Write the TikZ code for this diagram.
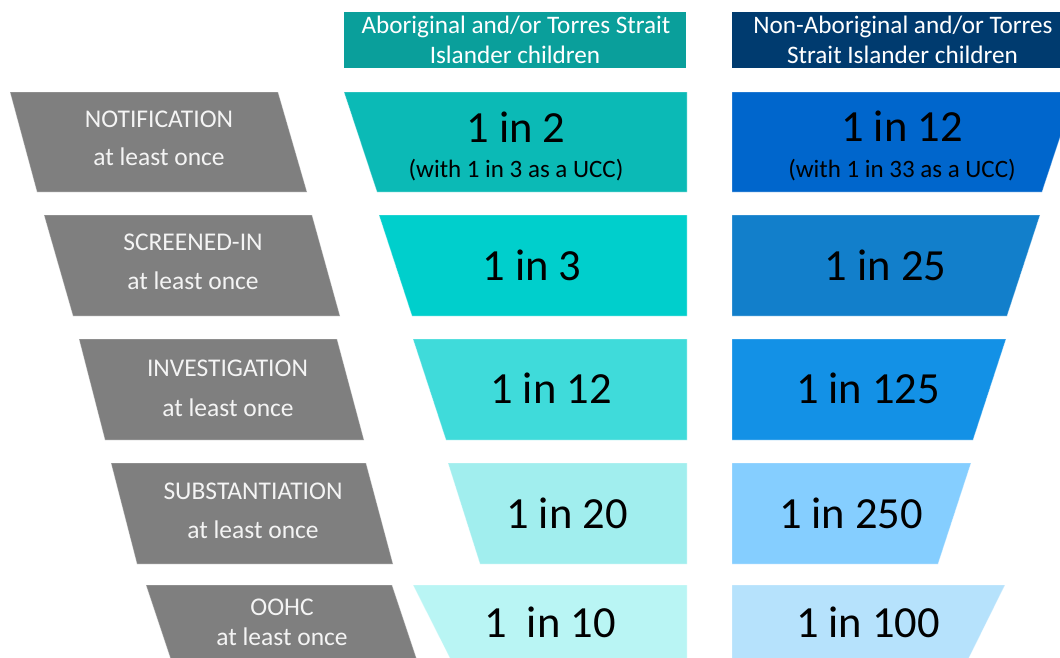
\documentclass[tikz,border=0pt]{standalone}
\usepackage{fontspec}
\setmainfont{Carlito}
\definecolor{hdrA}{HTML}{0A9F9B}
\definecolor{hdrB}{HTML}{003B6F}
\definecolor{grayL}{HTML}{7F7F7F}
\definecolor{tA}{HTML}{0BBAB6}
\definecolor{tB}{HTML}{00CFCC}
\definecolor{tC}{HTML}{3FDBDA}
\definecolor{tD}{HTML}{A1EEEE}
\definecolor{tE}{HTML}{B9F5F4}
\definecolor{bA}{HTML}{0066CC}
\definecolor{bB}{HTML}{127FCB}
\definecolor{bC}{HTML}{1391E6}
\definecolor{bD}{HTML}{85CEFF}
\definecolor{bE}{HTML}{B6E2FC}
\definecolor{labtext}{HTML}{F4F4F4}
\begin{document}
\begin{tikzpicture}[x=1pt,y=-1pt,
  lab/.style={font=\fontsize{25.5}{30}\selectfont, text=labtext, anchor=base, inner sep=0pt},
  big/.style={font=\fontsize{44.5}{52}\selectfont, text=black, anchor=base, inner sep=0pt},
  small/.style={font=\fontsize{25}{30}\selectfont, text=black, anchor=base, inner sep=0pt},
  hdr/.style={font=\fontsize{25.2}{30}\selectfont, text=white, anchor=base, inner sep=0pt},
  shp/.style={draw=white, draw opacity=0.35, line width=0.8pt}
]
\useasboundingbox (0,0) rectangle (1060,657);
\clip (0,0) rectangle (1060,657);

% headers
\fill[hdrA] (344,12) rectangle (686,68);
\fill[hdrB] (732,12) rectangle (1075,68);
\node[hdr] (h1a) at (516,33) {Aboriginal and/or Torres Strait};
\node[hdr] (h1b) at (515,63) {Islander children};
\node[hdr] (h2a) at (903,33) {Non-Aboriginal and/or Torres};
\node[hdr] (h2b) at (902.5,63) {Strait Islander children};

% gray stage shapes
\fill[grayL,shp] (10,92) -- (278,92) -- (307,192) -- (37,192) -- cycle;
\fill[grayL,shp] (44,215) -- (312,215) -- (340,316) -- (73,316) -- cycle;
\fill[grayL,shp] (79,339) -- (337,339) -- (364,440) -- (105,440) -- cycle;
\fill[grayL,shp] (111,463) -- (366,463) -- (393,564) -- (137,564) -- cycle;
\fill[grayL,shp] (146,585) -- (392,585) -- (427,690) -- (181,690) -- cycle;

% teal column
\fill[tA,shp] (344,92) -- (687,92) -- (687,192) -- (377,192) -- cycle;
\fill[tB,shp] (379,215) -- (687,215) -- (687,316) -- (412,316) -- cycle;
\fill[tC,shp] (413,339) -- (687,339) -- (687,440) -- (446,440) -- cycle;
\fill[tD,shp] (448,463) -- (687,463) -- (687,564) -- (480,564) -- cycle;
\fill[tE,shp] (413,585) -- (687,585) -- (687,690) -- (466,690) -- cycle;

% blue column
\fill[bA,shp] (732,92) -- (1075,92) -- (1042,192) -- (732,192) -- cycle;
\fill[bB,shp] (732,215) -- (1040,215) -- (1007,316) -- (732,316) -- cycle;
\fill[bC,shp] (732,339) -- (1006,339) -- (973,440) -- (732,440) -- cycle;
\fill[bD,shp] (732,463) -- (971,463) -- (938,564) -- (732,564) -- cycle;
\fill[bE,shp] (732,585) -- (1005,585) -- (953,690) -- (732,690) -- cycle;

% gray labels
\node[lab] (g1a) at (159,127) {NOTIFICATION};
\node[lab] (g1b) at (159,165) {at least once};
\node[lab] (g2a) at (193,250) {SCREENED-IN};
\node[lab] (g2b) at (193,289) {at least once};
\node[lab] (g3a) at (227.5,376) {INVESTIGATION};
\node[lab] (g3b) at (228,416) {at least once};
\node[lab] (g4a) at (253,499) {SUBSTANTIATION};
\node[lab] (g4b) at (253,538) {at least once};
\node[lab] (g5a) at (282,615) {OOHC};
\node[lab] (g5b) at (282,645) {at least once};

% teal values
\node[big] (t1) at (516,142) {1 in 2};
\node[small] (t1s) at (516,177) {(with 1 in 3 as a UCC)};
\node[big] (t2) at (532,280) {1 in 3};
\node[big] (t3) at (551,403) {1 in 12};
\node[big] (t4) at (567,528) {1 in 20};
\node[big] (t5) at (550,637) {1\ \ in 10};

% blue values
\node[big] (b1) at (902,141) {1 in 12};
\node[small] (b1s) at (902,177) {(with 1 in 33 as a UCC)};
\node[big] (b2) at (885.5,280) {1 in 25};
\node[big] (b3) at (868,403) {1 in 125};
\node[big] (b4) at (851,528) {1 in 250};
\node[big] (b5) at (868,637) {1 in 100};
\end{tikzpicture}
\end{document}
